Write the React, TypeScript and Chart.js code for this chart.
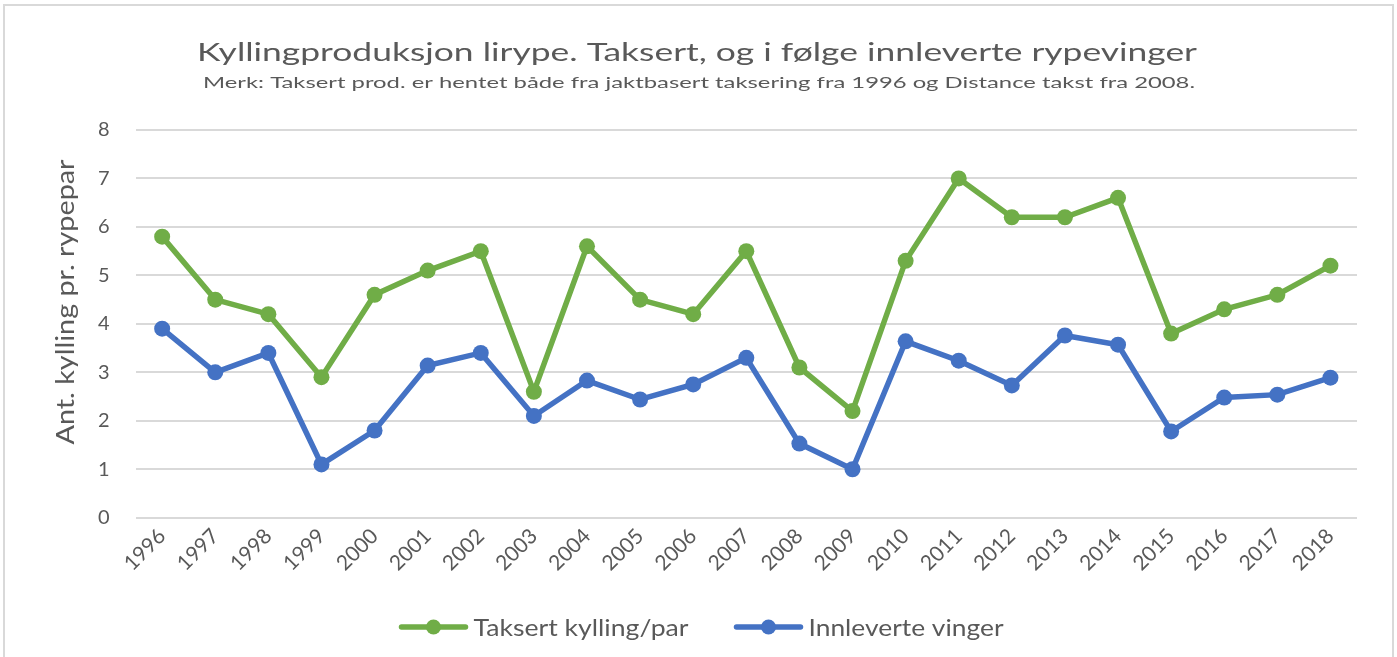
import React, { useEffect, useRef } from "react";
import { Chart, registerables } from "chart.js";

Chart.register(...registerables);

const years = ["1996","1997","1998","1999","2000","2001","2002","2003","2004","2005","2006","2007","2008","2009","2010","2011","2012","2013","2014","2015","2016","2017","2018"];
const taksert = [5.8,4.5,4.2,2.9,4.6,5.1,5.5,2.6,5.6,4.5,4.2,5.5,3.1,2.2,5.3,7.0,6.2,6.2,6.6,3.8,4.3,4.6,5.2];
const vinger = [3.9,3.0,3.4,1.1,1.8,3.14,3.4,2.1,2.83,2.44,2.75,3.3,1.53,1.0,3.64,3.24,2.73,3.76,3.57,1.78,2.48,2.54,2.89];
const seriesNames = ["Taksert kylling/par", "Innleverte vinger"];
const titleText = "Kyllingproduksjon lirype. Taksert, og i følge innleverte rypevinger";
const subtitleText = "Merk: Taksert prod. er hentet både fra jaktbasert taksering fra 1996 og Distance takst fra 2008.";
const yTitle = "Ant. kylling pr. rypepar";

const GREEN = "#70ad47";
const BLUE = "#4472c4";
const TEXT = "#595959";
const FONT = "Lato, 'Liberation Sans', sans-serif";

// draw text stretched along its direction to a target width
function drawStretched(ctx: CanvasRenderingContext2D, text: string, x: number, y: number, font: string, width: number, align: "left" | "center") {
  ctx.save();
  ctx.font = font;
  ctx.fillStyle = TEXT;
  ctx.textBaseline = "alphabetic";
  ctx.textAlign = "left";
  const w = ctx.measureText(text).width;
  const sx = width / w;
  ctx.translate(align === "center" ? x - width / 2 : x, y);
  ctx.scale(sx, 1);
  ctx.fillText(text, 0, 0);
  ctx.restore();
}

const overlay = {
  id: "overlay",
  afterDraw(chart: any) {
    const ctx: CanvasRenderingContext2D = chart.ctx;
    drawStretched(ctx, titleText, 697, 61, `25px ${FONT}`, 1000, "center");
    drawStretched(ctx, subtitleText, 699, 88, `15px ${FONT}`, 992, "center");
    ctx.save();
    ctx.translate(74, 302);
    ctx.rotate(-Math.PI / 2);
    drawStretched(ctx, yTitle, 0, 0, `25px ${FONT}`, 285, "center");
    ctx.restore();
    const lineLen = 70, gapText = 5, gapItems = 45, cy = 627;
    const targets = [215, 195];
    const total = targets.reduce((s, t) => s + lineLen + gapText + t, 0) + gapItems * (targets.length - 1);
    let x = 701 - total / 2;
    chart.data.datasets.forEach((ds: any, i: number) => {
      ctx.save();
      ctx.strokeStyle = ds.borderColor;
      ctx.lineWidth = 5.5;
      ctx.lineCap = "round";
      ctx.beginPath();
      ctx.moveTo(x + 3, cy);
      ctx.lineTo(x + lineLen - 3, cy);
      ctx.stroke();
      ctx.fillStyle = ds.borderColor;
      ctx.beginPath();
      ctx.arc(x + lineLen / 2, cy, 7.5, 0, Math.PI * 2);
      ctx.fill();
      ctx.restore();
      drawStretched(ctx, ds.label, x + lineLen + gapText, cy + 8.5, `24px ${FONT}`, targets[i], "left");
      x += lineLen + gapText + targets[i] + gapItems;
    });
  },
};

export default function App() {
  const ref = useRef<HTMLCanvasElement>(null);
  useEffect(() => {
    document.body.style.margin = "0";
    const mk = (label: string, data: number[], color: string) => ({
      label,
      data,
      borderColor: color,
      backgroundColor: color,
      borderWidth: 5.5,
      pointRadius: 8,
      pointBorderWidth: 0,
      pointBackgroundColor: color,
      tension: 0,
    });
    const chart = new Chart(ref.current!, {
      type: "line",
      data: {
        labels: years,
        datasets: [mk(seriesNames[0], taksert, GREEN), mk(seriesNames[1], vinger, BLUE)],
      },
      options: {
        animation: false,
        responsive: false,
        layout: { padding: { left: 72, right: 40, top: 130, bottom: 75 } },
        plugins: {
          title: { display: false },
          subtitle: { display: false },
          legend: { display: false },
          tooltip: { enabled: false },
        },
        scales: {
          x: {
            offset: true,
            grid: { display: false, drawTicks: false },
            border: { display: false },
            ticks: {
              color: TEXT,
              font: { family: FONT, size: 21 },
              minRotation: 45,
              maxRotation: 45,
              autoSkip: false,
              padding: 6,
            },
          },
          y: {
            min: 0,
            max: 8,
            grid: { color: "#d9d9d9", lineWidth: 2, drawTicks: false },
            border: { display: false },
            ticks: {
              stepSize: 1,
              color: TEXT,
              font: { family: FONT, size: 20 },
              padding: 26,
            },
          },
        },
      },
      plugins: [overlay],
    });
    return () => chart.destroy();
  }, []);
  return (
    <div style={{ position: "relative", width: 1397, height: 657, background: "#fff", overflow: "hidden" }}>
      <div style={{ position: "absolute", left: 3, top: 4, width: 1387, height: 700, border: "2px solid #d9d9d9" }} />
      <canvas ref={ref} width={1397} height={657} style={{ position: "absolute", left: 0, top: 0 }} />
    </div>
  );
}
